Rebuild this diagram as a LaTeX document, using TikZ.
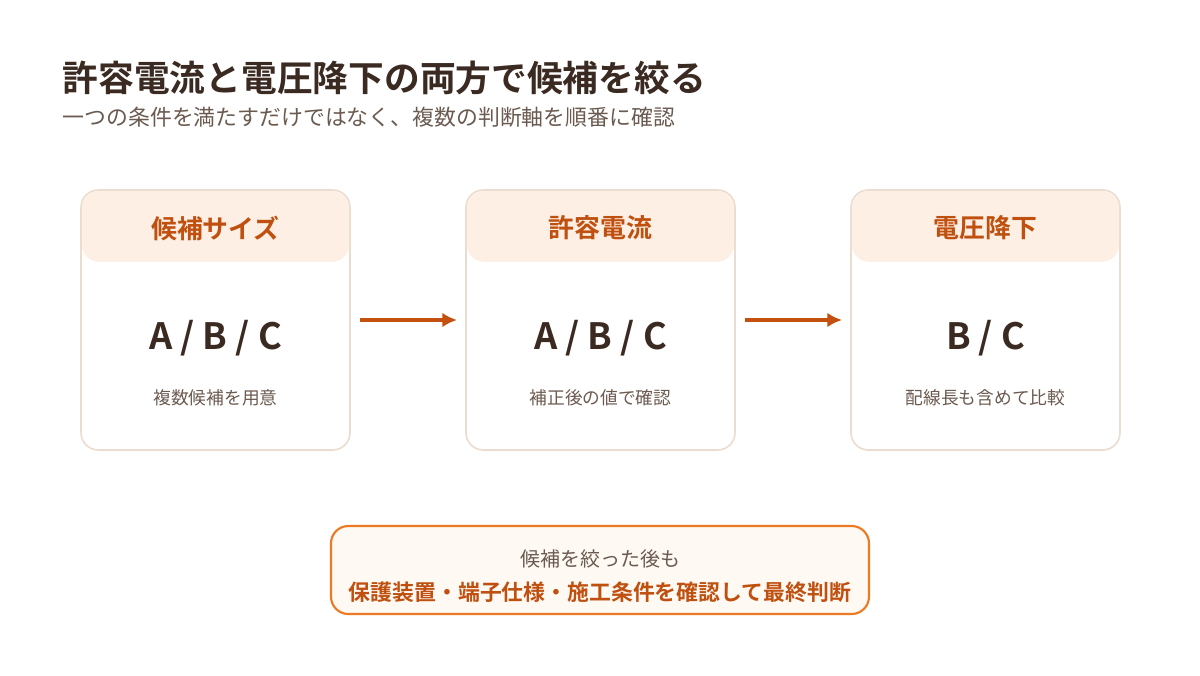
\documentclass[tikz,border=0pt]{standalone}
\usetikzlibrary{arrows.meta}
\usepackage{fontspec}
\setmainfont{Noto Sans CJK JP}[BoldFont={* Bold}]
\definecolor{dark}{HTML}{3A2A22}
\definecolor{sub}{HTML}{6B5A50}
\definecolor{head}{HTML}{C0500F}
\definecolor{band}{HTML}{FDEFE4}
\definecolor{edge}{HTML}{EBDCD0}
\definecolor{arr}{HTML}{C4500F}
\definecolor{obox}{HTML}{EC7A22}
\definecolor{ofill}{HTML}{FFF9F4}
\begin{document}
\begin{tikzpicture}[x=0.75pt,y=-0.75pt,
  card/.style={draw=edge,line width=1.2pt,fill=white,rounded corners=13pt},
  hd/.style={font=\fontsize{19.4}{22}\selectfont\bfseries,text=head},
  big/.style={font=\fontsize{27.2}{30}\selectfont\bfseries,text=dark},
  sm/.style={font=\fontsize{13.3}{15}\selectfont,text=sub},
  ar/.style={draw=arr,line width=3pt,-{Latex[length=11pt,width=11pt]}}]
\useasboundingbox (0,0) rectangle (1200,675);
\fill[white] (0,0) rectangle (1200,675);
\node[anchor=west,font=\fontsize{26.8}{30}\selectfont\bfseries,text=dark] (t) at (58,78) {許容電流と電圧降下の両方で候補を絞る};
\node[anchor=west,font=\fontsize{16.4}{19}\selectfont,text=sub] (st) at (58,117) {一つの条件を満たすだけではなく、複数の判断軸を順番に確認};
\foreach \i/\x/\h/\b/\s in {1/81/候補サイズ/{A / B / C}/複数候補を用意,2/466/許容電流/{A / B / C}/補正後の値で確認,3/851/電圧降下/{B / C}/配線長も含めて比較}{
  \draw[card] (\x,190) rectangle ++(269,260);
  \fill[band,rounded corners=13pt] (\x+0.8,190.8) rectangle ++(267.4,71);
  \node[hd] (h\i) at (\x+134.5,228) {\h};
  \node[big] (b\i) at (\x+134.5,338) {\b};
  \node[sm] (s\i) at (\x+134.5,398) {\s};
}
\coordinate (a1) at (360,320); \coordinate (a2) at (457,320);
\coordinate (a3) at (745,320); \coordinate (a4) at (842,320);
\draw[ar] (a1) -- (a2);
\draw[ar] (a3) -- (a4);
\draw[draw=obox,line width=1.6pt,fill=ofill,rounded corners=13pt] (331,526) rectangle (869,614);
\node[font=\fontsize{15}{17}\selectfont,text=sub] (n1) at (600,559) {候補を絞った後も};
\node[font=\fontsize{16.4}{19}\selectfont\bfseries,text=head] (n2) at (600,592) {保護装置・端子仕様・施工条件を確認して最終判断};
\end{tikzpicture}
\end{document}
